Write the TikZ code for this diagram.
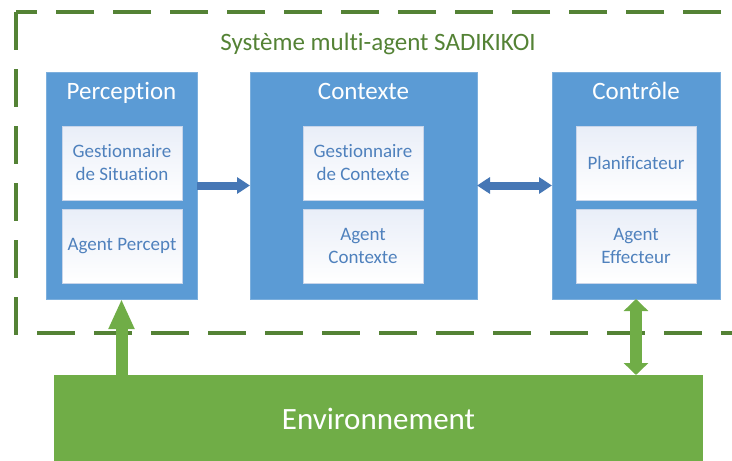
\documentclass[tikz,border=0pt]{standalone}
\usepackage{fontspec}
\setmainfont{Carlito}[Ligatures=CommonOff]
\usetikzlibrary{arrows.meta}
\definecolor{boxBlue}{HTML}{5B9BD5}
\definecolor{arrowBlueCol}{HTML}{4677B5}
\definecolor{textBlue}{HTML}{4F81BD}
\definecolor{envGreen}{HTML}{70AD47}
\definecolor{frameGreen}{HTML}{548235}
\definecolor{innerTop}{HTML}{E9EEF8}
\definecolor{innerLine}{HTML}{C8D5EA}
\tikzset{
  boxAll/.style={inner sep=0pt, outer sep=0pt, align=center},
  boxOuter/.style={fill=boxBlue, draw=boxBlue!80!white, minimum height=227pt},
  boxInner/.style={top color=innerTop, bottom color=white, draw=innerLine, minimum width=120pt, minimum height=74pt, text=textBlue, font=\fontsize{19}{23}\selectfont},
  headText/.style={text=white, font=\fontsize{25}{30}\selectfont, anchor=base},
  arrowBlue/.style={draw=arrowBlueCol, line width=8pt},
  arrowGreen/.style={draw=envGreen, line width=12pt},
  frameLine/.style={draw=frameGreen, line width=4pt, dash pattern=on 38pt off 19pt}
}

\begin{document}
\begin{tikzpicture}[x=1pt, y=-1pt]
  \useasboundingbox (0,0) rectangle (732,461);
  \clip (0,0) rectangle (732,461);

  \draw[frameLine] (16,12) rectangle (760,333);
  \node[boxAll, text=frameGreen, font=\fontsize{25}{30}\selectfont, anchor=base] (title) at (378,50) {Système multi-agent SADIKIKOI};

  \node[boxAll, boxOuter, minimum width=151pt] (perception) at (121.5,185.5) {};
  \node[boxAll, boxOuter, minimum width=227pt] (contexte) at (363.5,185.5) {};
  \node[boxAll, boxOuter, minimum width=168pt] (controle) at (636,185.5) {};

  \node[boxAll, headText] (perceptionHead) at (121.5,99) {Perception};
  \node[boxAll, headText] (contexteHead) at (363.5,99) {Contexte};
  \node[boxAll, headText] (controleHead) at (636,99) {Contrôle};

  \node[boxAll, boxInner] (gestSituation) at (122,163) {Gestionnaire\\de Situation};
  \node[boxAll, boxInner] (agentPercept) at (122,246) {Agent Percept};
  \node[boxAll, boxInner] (gestContexte) at (363,163) {Gestionnaire\\de Contexte};
  \node[boxAll, boxInner] (agentContexte) at (363,246) {Agent\\Contexte};
  \node[boxAll, boxInner] (planificateur) at (636,163) {Planificateur};
  \node[boxAll, boxInner] (agentEffecteur) at (636,246) {Agent\\Effecteur};

  \node[boxAll, fill=envGreen, minimum width=649pt, minimum height=88pt, text=white, font=\fontsize{31}{37}\selectfont] (env) at (378.5,419) {Environnement};

  \draw[arrowBlue, -{Triangle[width=16pt,length=13pt]}] (perception) -- (contexte);
  \draw[arrowBlue, {Triangle[width=16pt,length=13pt]}-{Triangle[width=16pt,length=13pt]}] (contexte) -- (controle);
  \draw[arrowGreen, -{Triangle[width=24pt,length=30pt]}] (perception.south |- env.north) -- (perception.south);
  \draw[arrowGreen, {Triangle[width=24pt,length=12pt]}-{Triangle[width=24pt,length=12pt]}] (controle.south) -- (controle.south |- env.north);
\end{tikzpicture}
\end{document}
